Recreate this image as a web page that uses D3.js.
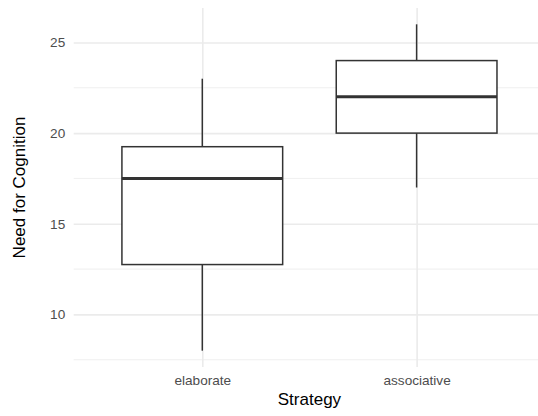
<!DOCTYPE html>
<html>
<head>
<meta charset="utf-8">
<script src="https://cdn.jsdelivr.net/npm/d3@7"></script>
<style>
  html, body { margin: 0; padding: 0; background: #fff; overflow: hidden; }
  svg { display: block; font-family: "Liberation Sans", Arial, Helvetica, sans-serif; }
</style>
</head>
<body>
<svg id="chart" width="538" height="416"></svg>
<script>
// ---- data ----
const categories = ["elaborate", "associative"];
const whiskerLow = [8, 17];
const q1 = [12.75, 20];
const median = [17.5, 22];
const q3 = [19.25, 24];
const whiskerHigh = [23, 26];
const yTicks = [10, 15, 20, 25];
const yMinorTicks = [7.5, 12.5, 17.5, 22.5];
const xTitle = "Strategy";
const yTitle = "Need for Cognition";

// ---- layout ----
const panel = { left: 73.7, right: 545.2, top: 8, bottom: 367 };
const svg = d3.select("#chart");

const x = d3.scalePoint().domain(categories).range([panel.left, panel.right]).padding(0.6);
const y = d3.scaleLinear().domain([7.1, 26.9]).range([panel.bottom, panel.top]);

const grid = "#EBEBEB";

// minor horizontal gridlines
svg.append("g").selectAll("line").data(yMinorTicks).join("line")
  .attr("x1", panel.left).attr("x2", panel.right)
  .attr("y1", d => y(d)).attr("y2", d => y(d))
  .attr("stroke", grid).attr("stroke-width", 0.8);

// major horizontal gridlines + labels via axis
const yAxis = svg.append("g")
  .attr("transform", `translate(${panel.left},0)`)
  .call(d3.axisLeft(y).tickValues(yTicks).tickSizeInner(-(panel.right - panel.left)).tickSizeOuter(0).tickPadding(8.5).tickFormat(d3.format("d")));
yAxis.select(".domain").remove();
yAxis.selectAll(".tick line").attr("stroke", grid).attr("stroke-width", 1.6);
yAxis.selectAll(".tick text").attr("fill", "#4D4D4D").style("font-size", "13.6px").attr("font-family", null);

// vertical gridlines + labels
const xAxis = svg.append("g")
  .attr("transform", `translate(0,${panel.bottom})`)
  .call(d3.axisBottom(x).tickSizeInner(-(panel.bottom - panel.top)).tickSizeOuter(0).tickPadding(8));
xAxis.select(".domain").remove();
xAxis.selectAll(".tick line").attr("stroke", grid).attr("stroke-width", 1.6);
xAxis.selectAll(".tick text").attr("fill", "#4D4D4D").style("font-size", "13.6px").attr("font-family", null);

// boxes
const bw = x.step() * 0.75;
const stroke = "#333333";
const boxes = svg.append("g").selectAll("g").data(categories).join("g");
boxes.append("line")
  .attr("x1", d => x(d)).attr("x2", d => x(d))
  .attr("y1", (d, i) => y(whiskerHigh[i])).attr("y2", (d, i) => y(q3[i]))
  .attr("stroke", stroke).attr("stroke-width", 1.5);
boxes.append("line")
  .attr("x1", d => x(d)).attr("x2", d => x(d))
  .attr("y1", (d, i) => y(q1[i])).attr("y2", (d, i) => y(whiskerLow[i]))
  .attr("stroke", stroke).attr("stroke-width", 1.5);
boxes.append("rect")
  .attr("x", d => x(d) - bw / 2).attr("width", bw)
  .attr("y", (d, i) => y(q3[i])).attr("height", (d, i) => y(q1[i]) - y(q3[i]))
  .attr("fill", "#fff").attr("stroke", stroke).attr("stroke-width", 1.5);
boxes.append("line")
  .attr("x1", d => x(d) - bw / 2).attr("x2", d => x(d) + bw / 2)
  .attr("y1", (d, i) => y(median[i])).attr("y2", (d, i) => y(median[i]))
  .attr("stroke", stroke).attr("stroke-width", 3);

// titles
svg.append("text")
  .attr("x", (panel.left + panel.right) / 2).attr("y", 405)
  .attr("text-anchor", "middle").attr("fill", "#000").style("font-size", "17px")
  .text(xTitle);
svg.append("text")
  .attr("transform", `translate(25,${(panel.top + panel.bottom) / 2}) rotate(-90)`)
  .attr("text-anchor", "middle").attr("fill", "#000").style("font-size", "17px")
  .text(yTitle);
</script>
</body>
</html>
